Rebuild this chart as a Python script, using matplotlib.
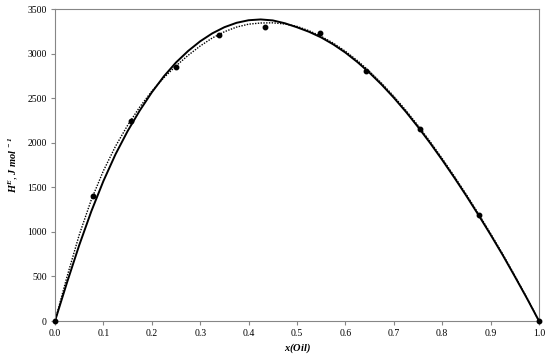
import matplotlib
matplotlib.use("Agg")
import matplotlib.pyplot as plt

plt.rcParams['font.family'] = ['Liberation Serif', 'DejaVu Serif']
plt.rcParams['mathtext.fontset'] = 'custom'
plt.rcParams['mathtext.rm'] = 'Liberation Serif:bold:italic'
plt.rcParams['mathtext.it'] = 'Liberation Serif:bold:italic'
plt.rcParams['mathtext.default'] = 'rm'

# experimental points
x_exp = [0.0, 0.078, 0.158, 0.249, 0.339, 0.433, 0.548, 0.643, 0.754, 0.875, 1.0]
h_exp = [0, 1400, 2240, 2847, 3205, 3302, 3236, 2810, 2151, 1190, 0]

# solid fitted curve
x_solid = [0.0, 0.025, 0.05, 0.075, 0.1, 0.125, 0.15, 0.175, 0.2, 0.225, 0.25, 0.275,
           0.3, 0.325, 0.35, 0.375, 0.4, 0.425, 0.45, 0.475, 0.5, 0.525, 0.55, 0.575,
           0.6, 0.625, 0.65, 0.675, 0.7, 0.725, 0.75, 0.775, 0.8, 0.825, 0.85, 0.875,
           0.9, 0.925, 0.95, 0.975, 1.0]
h_solid = [0, 435, 850, 1230, 1570, 1870, 2130, 2360, 2565, 2745, 2900, 3029,
           3138, 3227, 3296, 3345, 3374, 3383, 3372, 3340, 3295, 3244, 3181, 3103,
           3011, 2904, 2784, 2651, 2505, 2347, 2177, 1997, 1807, 1609, 1403, 1189,
           968, 740, 500, 255, 0]

# dotted fitted curve
x_dot = [0.0, 0.025, 0.05, 0.075, 0.1, 0.125, 0.15, 0.175, 0.2, 0.225, 0.25, 0.275,
         0.3, 0.325, 0.35, 0.375, 0.4, 0.425, 0.45, 0.475, 0.5, 0.525, 0.55, 0.575,
         0.6, 0.625, 0.65, 0.675, 0.7, 0.725, 0.75, 0.775, 0.8, 0.825, 0.85, 0.875,
         0.9, 0.925, 0.95, 0.975, 1.0]
h_dot = [0, 500, 965, 1360, 1685, 1960, 2195, 2400, 2578, 2730, 2862, 2980,
         3085, 3175, 3245, 3297, 3330, 3343, 3345, 3332, 3305, 3256, 3193, 3117,
         3026, 2920, 2800, 2667, 2521, 2363, 2193, 2013, 1823, 1624, 1418, 1203,
         981, 751, 509, 260, 0]

xticks = [0.0, 0.1, 0.2, 0.3, 0.4, 0.5, 0.6, 0.7, 0.8, 0.9, 1.0]
yticks = [0, 500, 1000, 1500, 2000, 2500, 3000, 3500]

fig = plt.figure(figsize=(5.5, 3.56), dpi=100)
ax = fig.add_axes([0.1, 0.0983, 0.88, 0.8764])

ax.plot(x_solid, h_solid, color='black', lw=1.4, solid_joinstyle='round')
ax.plot(x_dot, h_dot, color='black', lw=1.0, linestyle=(0, (1, 1)))
ax.plot(x_exp, h_exp, 'o', color='black', ms=3.2, clip_on=False, zorder=5)

ax.set_xlim(0, 1.0)
ax.set_ylim(0, 3500)
ax.set_xticks(xticks)
ax.set_xticklabels([f'{v:.1f}' for v in xticks])
ax.set_yticks(yticks)
ax.set_yticklabels([str(v) for v in yticks])

grey = '#868686'
for s in ax.spines.values():
    s.set_color(grey)
    s.set_linewidth(0.8)
ax.tick_params(axis='both', direction='out', length=3, width=0.8, color=grey,
               labelsize=7, pad=3, labelcolor='black')

ax.set_xlabel(r'$x(Oil)$', fontsize=7.5, labelpad=2)
ax.set_ylabel(r'$H^{E}$, $J\ mol^{\ -1}$', fontsize=7.5, labelpad=5)

fig.savefig('out.png', dpi=100)
